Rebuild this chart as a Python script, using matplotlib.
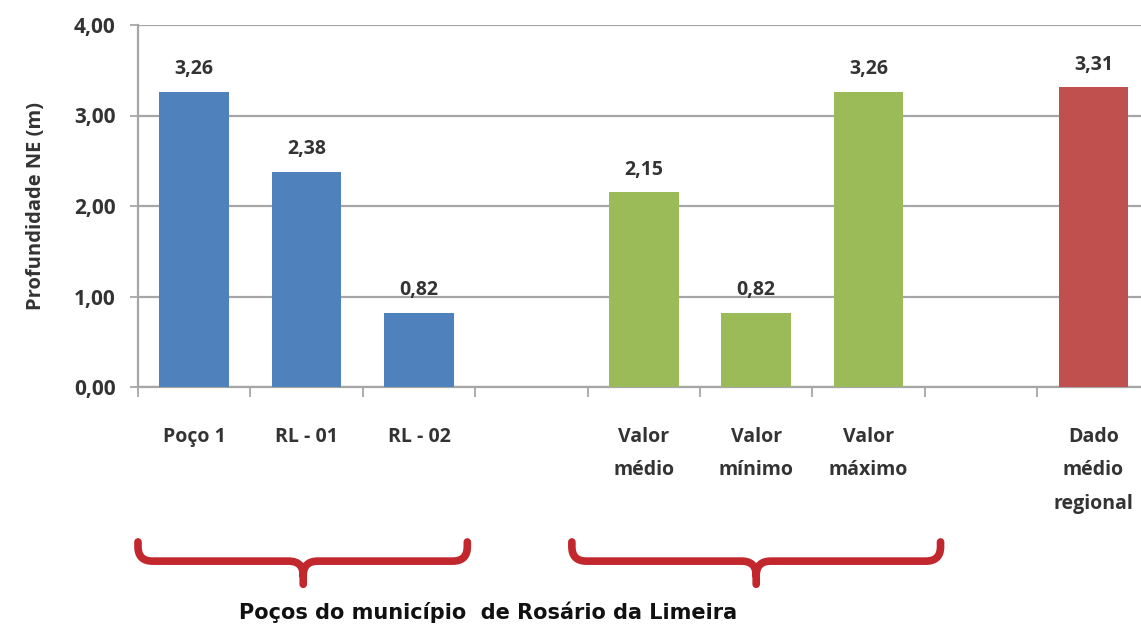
import matplotlib
matplotlib.use("Agg")
import matplotlib.pyplot as plt
from matplotlib.path import Path
from matplotlib.patches import PathPatch
import matplotlib.transforms as mtransforms

# ---- data ----
wells = ['Poço 1', 'RL - 01', 'RL - 02']
well_values = [3.26, 2.38, 0.82]
stats = ['Valor\nmédio', 'Valor\nmínimo', 'Valor\nmáximo']
stats_values = [2.15, 0.82, 3.26]
regional = ['Dado\nmédio\nregional']
regional_values = [3.31]
y_ticks = [0.0, 1.0, 2.0, 3.0, 4.0]
y_label = 'Profundidade NE (m)'
group_text = 'Poços do município  de Rosário da Limeira'

well_pos = [0, 1, 2]
stats_pos = [4, 5, 6]
regional_pos = [8]

BLUE = '#4f81bd'
GREEN = '#9bbb59'
RED = '#c0504d'
BRACE = '#c1272d'
TXT = '#333333'
GRID = '#a6a6a6'

plt.rcParams['font.family'] = ['Open Sans', 'DejaVu Sans']

fig = plt.figure(figsize=(11.41, 6.34), dpi=100)
ax = fig.add_axes([138 / 1141, 1 - 387 / 634, 1011.6 / 1141, 362 / 634])

bw = 0.62
ax.bar(well_pos, well_values, width=bw, color=BLUE, zorder=3)
ax.bar(stats_pos, stats_values, width=bw, color=GREEN, zorder=3)
ax.bar(regional_pos, regional_values, width=bw, color=RED, zorder=3)

for xs, vs in ((well_pos, well_values), (stats_pos, stats_values), (regional_pos, regional_values)):
    for x, v in zip(xs, vs):
        ax.annotate(f'{v:.2f}'.replace('.', ','), xy=(x, v), xytext=(0, 9),
                    textcoords='offset points', ha='center', va='bottom',
                    fontsize=14, fontweight='bold', color=TXT)

ax.set_xlim(-0.5, 8.5)
ax.set_ylim(0, 4)
ax.set_yticks(y_ticks)
ax.set_yticklabels([f'{t:.2f}'.replace('.', ',') for t in y_ticks],
                   fontsize=15, fontweight='bold', color=TXT)
ax.yaxis.grid(True, color=GRID, linewidth=1.6, zorder=0)
ax.tick_params(axis='y', length=6, width=1.3, color=GRID, pad=10)

ax.set_xticks(well_pos + stats_pos + regional_pos)
ax.set_xticklabels(wells + stats + regional, fontsize=14, fontweight='bold',
                   color=TXT, linespacing=1.88, va='top')
ax.set_xticks([i - 0.5 for i in range(10)], minor=True)
ax.tick_params(axis='x', which='major', length=0, pad=29)
ax.tick_params(axis='x', which='minor', length=7, width=1.3, color=GRID)

for s in ('top', 'right'):
    ax.spines[s].set_visible(False)
for s in ('left', 'bottom'):
    ax.spines[s].set_color(GRID)
    ax.spines[s].set_linewidth(1.6)

ax.set_ylabel(y_label, fontsize=14.5, fontweight='bold', color=TXT, labelpad=20)

# ---- braces (x in data units, y in axes fraction) ----
trans = mtransforms.blended_transform_factory(ax.transData, ax.transAxes)


def brace(xa, xb, xc, y0, y1, y2, rx=0.13, ry=0.04):
    verts = [(xa, y0), (xa, y1 + ry), (xa, y1), (xa + rx, y1),
             (xc - rx, y1), (xc, y1), (xc, y1 - ry), (xc, y2)]
    codes = [Path.MOVETO, Path.LINETO, Path.CURVE3, Path.CURVE3,
             Path.LINETO, Path.CURVE3, Path.CURVE3, Path.LINETO]
    verts2 = [(xb, y0), (xb, y1 + ry), (xb, y1), (xb - rx, y1),
              (xc + rx, y1), (xc, y1), (xc, y1 - ry)]
    codes2 = [Path.MOVETO, Path.LINETO, Path.CURVE3, Path.CURVE3,
              Path.LINETO, Path.CURVE3, Path.CURVE3]
    p = Path(verts + verts2, codes + codes2)
    patch = PathPatch(p, facecolor='none', edgecolor=BRACE, linewidth=5.5,
                      transform=trans, clip_on=False, capstyle='round', joinstyle='round')
    ax.add_patch(patch)


brace(-0.5, 2.43, 0.97, -0.428, -0.481, -0.545)
brace(3.36, 6.64, 5.0, -0.428, -0.481, -0.545)

ax.text(2.61, -0.622, group_text, transform=trans, ha='center', va='center',
        fontsize=15, fontweight='bold', color='#111111',
        family=['DejaVu Sans'])

fig.savefig('out.png', dpi=100)
